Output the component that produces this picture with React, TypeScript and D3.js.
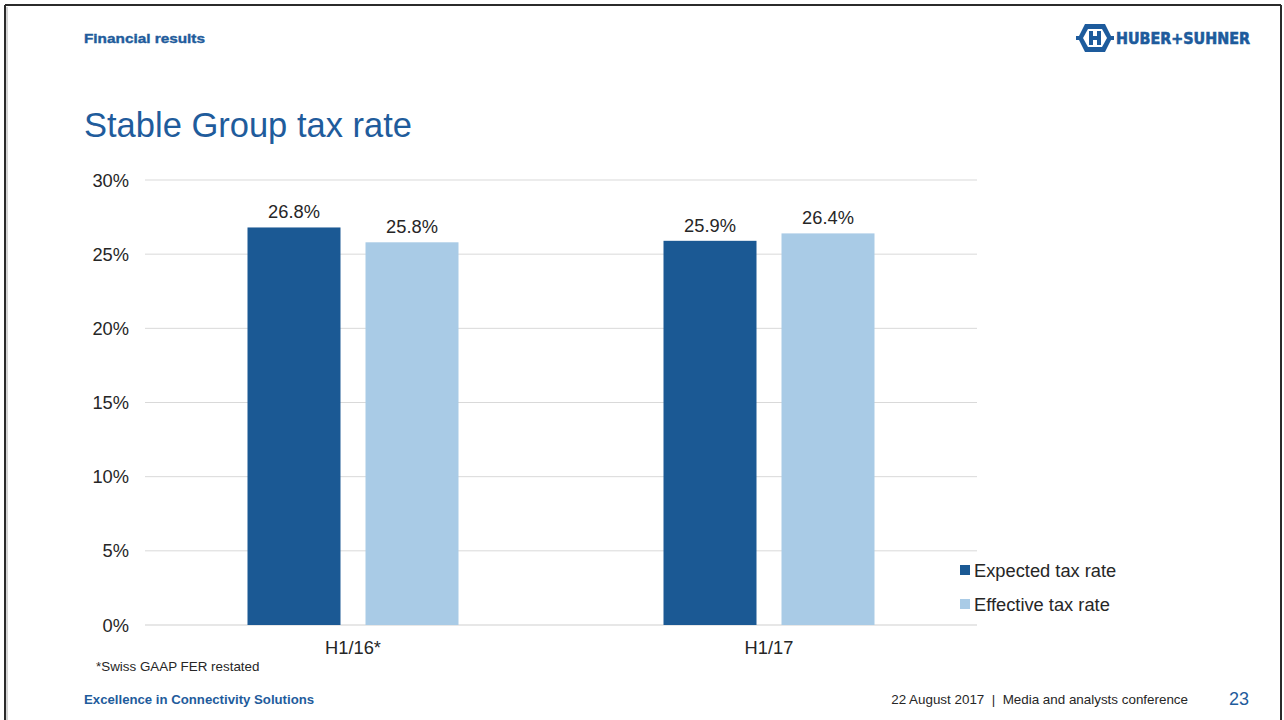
import React from "react";
import * as d3 from "d3";

const categories = ["H1/16*", "H1/17"];
const seriesNames = ["Expected tax rate", "Effective tax rate"];
const expected = [26.8, 25.9];
const effective = [25.8, 26.4];
const yTicks = [0, 5, 10, 15, 20, 25, 30];
const colors = ["#1b5994", "#a9cbe6"];

const W = 1284;
const H = 720;
const FONT = "Liberation Sans, Arial, Helvetica, sans-serif";
const BLUE = "#1f5c9c";
const FS = 18.3;

export default function App() {
  const plotLeft = 145;
  const plotRight = 977;
  const x0 = d3.scaleBand<string>().domain(categories).range([plotLeft, plotRight]).padding(0);
  const y = d3.scaleLinear().domain([0, 30]).range([625, 180]);
  const barW = 93;
  const gap = 25;
  const series = [expected, effective];

  return (
    <svg width={W} height={H} style={{ position: "absolute", left: 0, top: 0, background: "#fff" }} fontFamily={FONT}>
      <rect x={0} y={0} width={W} height={H} fill="#fff" />
      {/* frame */}
      <line x1={5} y1={5} x2={1281} y2={5} stroke="#2b2b2b" strokeWidth={2} />
      <line x1={5} y1={5} x2={5} y2={720} stroke="#2b2b2b" strokeWidth={2} />
      <line x1={1281} y1={5} x2={1281} y2={720} stroke="#2b2b2b" strokeWidth={2} />
      <line x1={7} y1={7} x2={7} y2={720} stroke="#aaa" strokeWidth={1} />

      {/* header */}
      <text x={84} y={43} fontSize={13.5} fontWeight="bold" fill={BLUE} textLength={121} lengthAdjust="spacingAndGlyphs" stroke={BLUE} strokeWidth={0.4}>Financial results</text>
      {/* logo */}
      <g transform="translate(1078,24)">
        <path d="M7,0 L27,0 L34,14 L27,28 L7,28 L0,14 Z" fill="#1d5b9c" />
        <path d="M10,5 L24,5 L29,14 L24,23 L10,23 L5,14 Z" fill="#fff" />
        <rect x={11} y={7} width={4} height={14} fill="#1d5b9c" />
        <rect x={19} y={7} width={4} height={14} fill="#1d5b9c" />
        <rect x={11} y={12} width={12} height={4} fill="#1d5b9c" />
        <rect x={-2} y={12} width={6} height={4} fill="#1d5b9c" />
        <rect x={30} y={12} width={6} height={4} fill="#1d5b9c" />
        <text x={38} y={20} fontSize={15} fontWeight="900" fill="#1d5b9c" stroke="#1d5b9c" strokeWidth={0.6} fontFamily="DejaVu Sans, sans-serif" textLength={134} lengthAdjust="spacingAndGlyphs">HUBER+SUHNER</text>
      </g>

      {/* title */}
      <text x={84} y={137} fontSize={34.5} fill={BLUE}>Stable Group tax rate</text>

      {/* gridlines */}
      {yTicks.map((t) => (
        <g key={t}>
          <line x1={plotLeft} x2={plotRight} y1={y(t)} y2={y(t)} stroke={t === 0 ? "#cfcfcf" : "#d9d9d9"} strokeWidth={1} />
          <text x={129} y={y(t) + 6.5} fontSize={FS} textAnchor="end" fill="#262626">{t}%</text>
        </g>
      ))}

      {/* bars */}
      {categories.map((c, i) => {
        const cx = (x0(c) as number) + x0.bandwidth() / 2;
        return (
          <g key={c}>
            {series.map((s, j) => {
              const bx = cx - gap / 2 - barW + j * (barW + gap);
              return (
                <g key={j}>
                  <rect x={bx} y={y(s[i])} width={barW} height={y(0) - y(s[i])} fill={colors[j]} />
                  <text x={bx + barW / 2} y={y(s[i]) - 9} fontSize={FS} textAnchor="middle" fill="#262626">
                    {s[i].toFixed(1)}%
                  </text>
                </g>
              );
            })}
            <text x={cx} y={654} fontSize={FS} textAnchor="middle" fill="#262626">{c}</text>
          </g>
        );
      })}

      {/* legend */}
      {seriesNames.map((n, j) => (
        <g key={n} transform={`translate(960,${565 + j * 34})`}>
          <rect x={0} y={0} width={10} height={10} fill={colors[j]} />
          <text x={14} y={11.5} fontSize={FS} fill="#262626">{n}</text>
        </g>
      ))}

      {/* footnote & footer */}
      <text x={96} y={671} fontSize={13.4} fill="#262626">*Swiss GAAP FER restated</text>
      <text x={84} y={704} fontSize={13.2} fontWeight="bold" fill={BLUE}>Excellence in Connectivity Solutions</text>
      <text x={1188} y={704} fontSize={13.4} textAnchor="end" fill="#262626" style={{ whiteSpace: "pre" }}>{"22 August 2017  |  Media and analysts conference"}</text>
      <text x={1249} y={705} fontSize={18} textAnchor="end" fill={BLUE}>23</text>
    </svg>
  );
}
